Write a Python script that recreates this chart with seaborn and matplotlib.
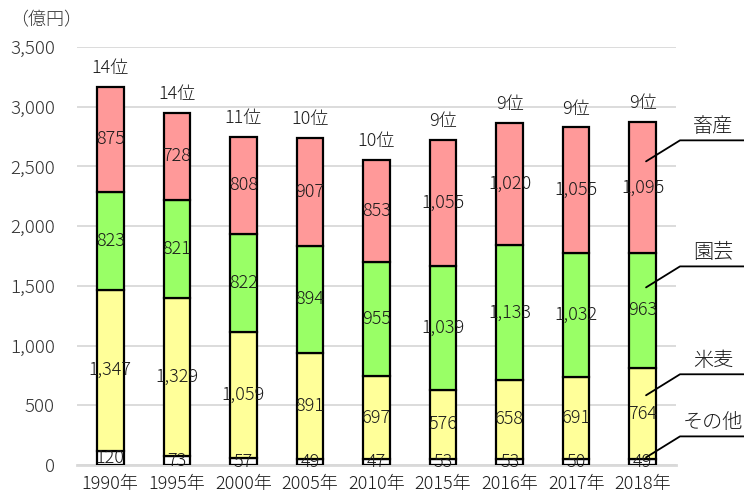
import numpy as np
import pandas as pd
import matplotlib.pyplot as plt
import seaborn as sns
from matplotlib.lines import Line2D
from matplotlib.transforms import IdentityTransform

years = ["1990年", "1995年", "2000年", "2005年", "2010年", "2015年", "2016年", "2017年", "2018年"]
sonota = [120, 73, 57, 49, 47, 53, 53, 50, 49]
beibaku = [1347, 1329, 1059, 891, 697, 576, 658, 691, 764]
engei = [823, 821, 822, 894, 955, 1039, 1133, 1032, 963]
chikusan = [875, 728, 808, 907, 853, 1055, 1020, 1055, 1095]
ranks = ["14位", "14位", "11位", "10位", "10位", "9位", "9位", "9位", "9位"]

series = [("その他", sonota, "#FFFFFF"),
          ("米麦", beibaku, "#FFFF99"),
          ("園芸", engei, "#99FF66"),
          ("畜産", chikusan, "#FF9999")]

sns.set_theme(style="white")
plt.rcParams['font.family'] = ['Noto Sans CJK JP', 'DejaVu Sans']
plt.rcParams['font.weight'] = 'light'

fig = plt.figure(figsize=(7.44, 4.97), dpi=100)
ax = fig.add_axes([77 / 744, 1 - 465 / 497, (676 - 77) / 744, (465 - 47) / 497])

bottom = np.zeros(len(years))
anchors = {}
for name, vals, col in series:
    vals = np.array(vals, dtype=float)
    sns.barplot(x=years, y=vals, bottom=bottom, color=col, saturation=1, edgecolor="black",
                linewidth=1.6, width=0.4, errorbar=None, ax=ax, zorder=3)
    for i, v in enumerate(vals):
        ax.text(i, bottom[i] + v / 2, f"{int(v):,}", ha="center", va="center",
                fontsize=13, color="#1a1a1a", zorder=5)
    if name == "その他":
        anchors[name] = bottom[-1] + v * 1.3
    else:
        anchors[name] = bottom[-1] + v * 0.7
    bottom = bottom + vals

for i, r in enumerate(ranks):
    ax.annotate(r, (i, bottom[i]), xytext=(0, 7), textcoords="offset points",
                ha="center", va="bottom", fontsize=13, color="#1a1a1a")

ax.set_ylim(0, 3500)
ax.set_xlim(-0.5, len(years) - 0.5)
ax.set_yticks(np.arange(0, 3501, 500))
ax.yaxis.set_major_formatter(plt.FuncFormatter(lambda v, p: f"{int(v):,}"))
ax.grid(axis="y", color="#D9D9D9", linewidth=1.3, zorder=0)
ax.set_axisbelow(True)
for s in ["top", "right", "left"]:
    ax.spines[s].set_visible(False)
ax.spines["bottom"].set_color("#D9D9D9")
ax.spines["bottom"].set_linewidth(2)
ax.tick_params(axis="y", length=0, pad=16, labelsize=13.5, labelcolor="#333333")
ax.tick_params(axis="x", length=0, pad=7, labelsize=13, labelcolor="#1a1a1a")
ax.set_xlabel("")
ax.set_ylabel("")

fig.text(46 / 744, 1 - 20 / 497, "（億円）", ha="center", va="center", fontsize=13, color="#333333")

# leader lines for the series names on the right
for name, _, _ in series[::-1]:
    x0, y0 = ax.transData.transform((len(years) - 1 + 0.05, anchors[name]))
    x1, y1 = 680, y0 + 21
    fig.add_artist(Line2D([x0, x1, 744], [y0, y1, y1], transform=IdentityTransform(),
                          color="black", linewidth=1.3))
    fig.text(713, y1 + 3, name, transform=IdentityTransform(), ha="center", va="bottom",
             fontsize=14.5, color="#1a1a1a")

fig.savefig("out.png", dpi=100)
